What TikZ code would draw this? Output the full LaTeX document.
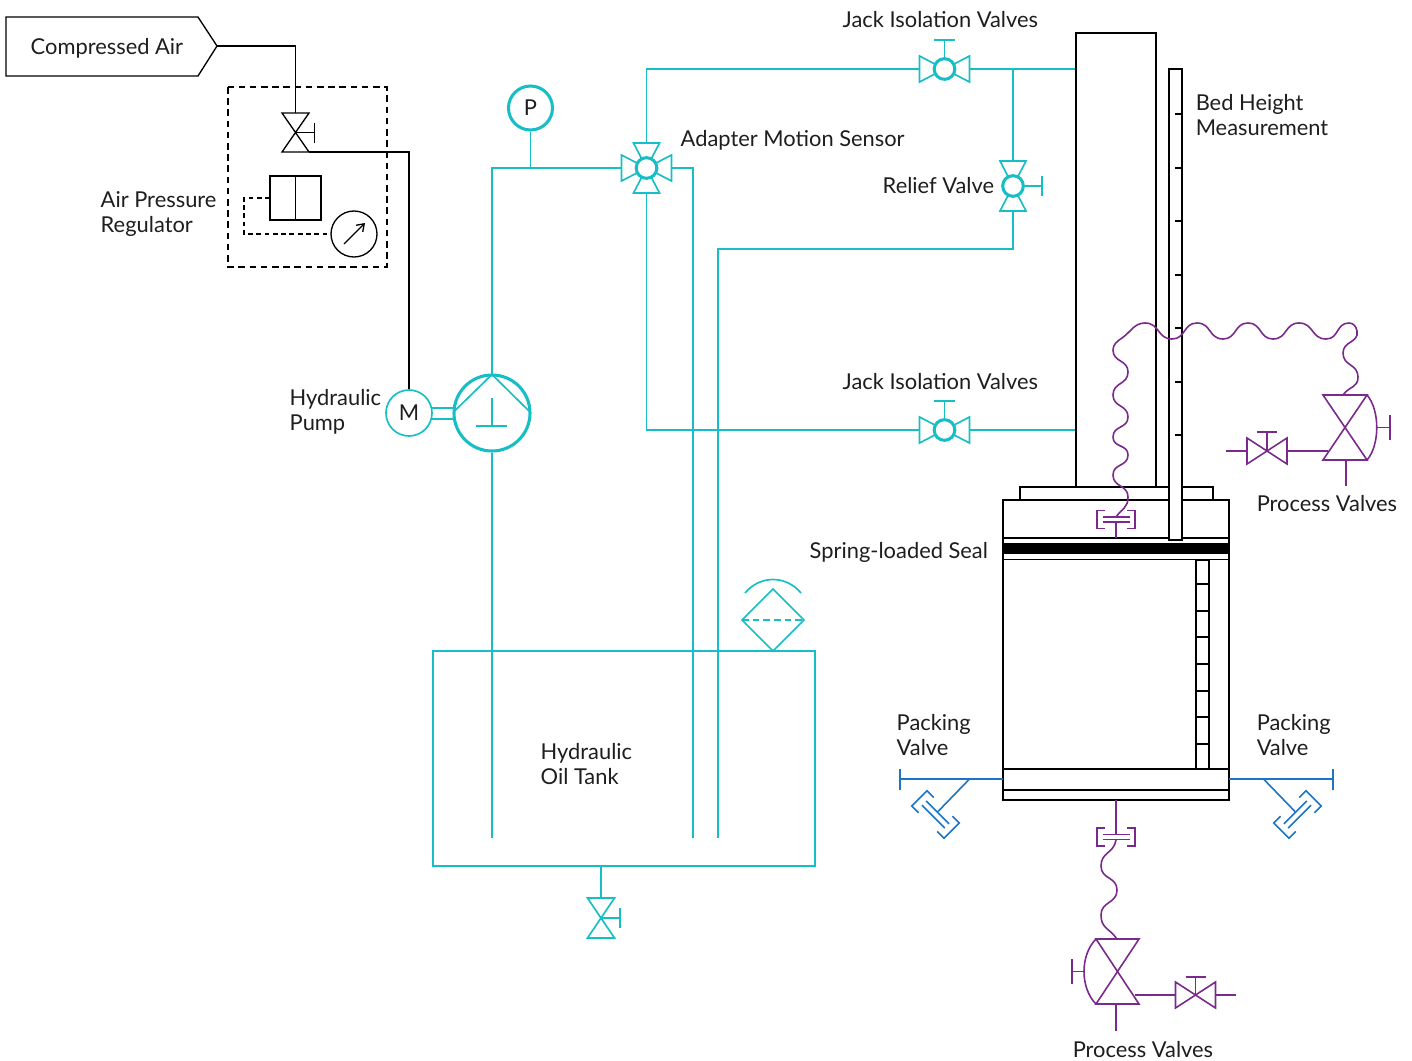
\documentclass[tikz,border=0pt]{standalone}
\usepackage{fontspec}
\setmainfont{Lato}
\usetikzlibrary{arrows.meta}
\definecolor{tealc}{HTML}{17BEC5}
\definecolor{purp}{HTML}{7A2A8C}
\definecolor{bluec}{HTML}{1C74C6}
\definecolor{ink}{HTML}{1E1E1E}
\newcommand{\ls}{\strut}
\tikzset{
 blk/.style={draw=black,line width=1.25pt},
 blkthin/.style={draw=black,line width=1pt},
 dsh/.style={draw=black,line width=1pt,dash pattern=on 5pt off 3.4pt},
 tl/.style={draw=tealc,line width=1.25pt},
 tlthick/.style={draw=tealc,line width=2.3pt},
 pl/.style={draw=purp,line width=1.2pt},
 bl/.style={draw=bluec,line width=1.2pt},
 vcircle/.style={circle,tlthick,fill=white,minimum size=15.5pt,inner sep=0pt},
 lbl/.style={font=\fontsize{16.4}{19}\selectfont,text=ink,inner sep=0pt,anchor=west,align=left,xshift=-0.4pt,yshift=-1.5pt},
}
% teal valve with round body: name, x, y, list of wing angles
\newcommand{\wingvalve}[4]{%
 \begin{scope}[shift={(#2,#3)}]
  \coordinate (#1-w) at (-25,0);\coordinate (#1-e) at (25,0);
  \coordinate (#1-n) at (0,-25);\coordinate (#1-s) at (0,25);
  \foreach \a in {#4}{\draw[tl,rotate=\a,line join=miter] (-25,-13)--(-25,13)--(0,0)--cycle;}
  \node[vcircle] (#1) at (0,0) {};
 \end{scope}}
% crossed-triangle valve: name, x, y, half width, half height, rotation, style
\newcommand{\crossvalve}[7]{%
 \begin{scope}[shift={(#2,#3)},rotate=#6]
  \coordinate (#1) at (0,0);
  \coordinate (#1-n) at (0,-#5);\coordinate (#1-s) at (0,#5);
  \draw[#7] (-#4,-#5)--(#4,-#5)--(-#4,#5)--(#4,#5)--cycle;
 \end{scope}}
% flange: x, y, rotation, scale, style
\newcommand{\flange}[5]{%
 \begin{scope}[shift={(#1,#2)},rotate=#3,scale=#4]
  \draw[#5] (-13.5,-2.5)--(13.5,-2.5) (-13.5,2.5)--(13.5,2.5);
  \draw[#5] (-11,-9)--(-19,-9)--(-19,9)--(-11,9);
  \draw[#5] (11,-9)--(19,-9)--(19,9)--(11,9);
 \end{scope}}
\begin{document}
\begin{tikzpicture}[x=0.75pt,y=-0.75pt]
\useasboundingbox (0,0) rectangle (1412,1060);
%% ---------- air side
\node[lbl] (tair) at (31,47.6) {\ls Compressed Air};
\draw[blkthin] (6,17)--(198,17)--(217,46)--(198,76)--(6,76)--cycle;
\coordinate (airtip) at (217,46);
\coordinate (airbend) at (295.5,46);
\crossvalve{airv}{295.5}{132.5}{13.5}{19.5}{0}{blkthin}
\coordinate (airout) at (309,152);
\coordinate (airbend2) at (409,152);
\node[circle,tl,minimum size=34.5pt,inner sep=0pt,font=\fontsize{16.4}{19}\selectfont,text=ink] (motor) at (409,413) {M};
\draw[blkthin] (airtip)--(airbend)--(airv-n);
\draw[blkthin] (airv)--++(19,0) ++(0,-10)--++(0,20);
\draw[blk] (airout)--(airbend2)--(motor.north);
\draw[dsh] (228,87) rectangle (387,267);
\draw[blkthin] (270,176) rectangle (321,220);
\draw[blkthin] (295.5,176)--(295.5,220);
\node[circle,blkthin,minimum size=34.5pt,inner sep=0pt] (gauge) at (354,234) {};
\draw[blkthin,-{Straight Barb[length=5pt,width=7pt]}] (344,244)--(365,223);
\coordinate (regl) at (270,198);
\coordinate (regc1) at (244,198);
\coordinate (regc2) at (244,234);
\draw[dsh,dash pattern=on 3.6pt off 2.6pt] (regl)--(regc1)--(regc2)--(gauge.west);
\node[lbl] (tapr) at (101,213) {\ls Air Pressure\\\ls Regulator};
%% ---------- tank
\draw[tl] (433,651) rectangle (815,866);
\coordinate (tankdrain) at (601,866);
\crossvalve{drain}{601}{918}{13.5}{20}{0}{tl}
\draw[tl] (tankdrain)--(drain-n);
\draw[tl] (drain)--++(19,0) ++(0,-10)--++(0,20);
\draw[tl] (773,589)--(804,620)--(773,651)--(742,620)--cycle;
\draw[tl,dash pattern=on 5pt off 3pt] (742,620)--(804,620);
\draw[tl] (745,593) .. controls (760,575) and (786,575) .. (801,593);
\node[lbl] (ttank) at (541,765.2) {\ls Hydraulic\\\ls Oil Tank};
%% ---------- pump
\node[circle,tlthick,minimum size=57pt,inner sep=0pt] (pump) at (492,413) {};
\coordinate (pumpa) at (492,374.5);
\coordinate (pumpb) at (453.5,412);
\coordinate (pumpc) at (530,412);
\draw[tl] (pumpb)--(pumpa)--(pumpc);
\draw[tl] (492,398)--(492,426) (476,426)--(507,426);
\coordinate (s1a) at (431,408);\coordinate (s1b) at (453,408);
\coordinate (s2a) at (431,419);\coordinate (s2b) at (453,419);
\draw[tl] (s1a)--(s1b) (s2a)--(s2b);
\node[lbl] (tpump) at (290,411.2) {\ls Hydraulic\\\ls Pump};
%% ---------- teal valves
\wingvalve{ams}{646.5}{168}{0,90,180,270}
\wingvalve{jack1}{944.5}{69}{0,180}
\wingvalve{jack2}{944.5}{430}{0,180}
\wingvalve{relief}{1013}{186}{90,270}
\node[circle,tlthick,minimum size=33pt,inner sep=0pt,font=\fontsize{16.4}{19}\selectfont,text=ink] (pg) at (530.5,108) {P};
\coordinate (pgj) at (530.5,168);
\coordinate (pc1) at (492,168);
\coordinate (pend) at (492,838);
\coordinate (r1) at (693,168);\coordinate (r1e) at (693,838);
\coordinate (r2) at (1013,249);\coordinate (r2b) at (718,249);\coordinate (r2e) at (718,838);
\coordinate (top1) at (646.5,69);
\coordinate (low1) at (646.5,430);
\coordinate (jct) at (1013,69);
\coordinate (colt) at (1076,69);
\coordinate (colb) at (1076,430);
\draw[tl] (pg.south)--(pgj);
\draw[tl] (pumpa)--(pc1)--(ams-w);
\draw[tl] (pump.south)--(pend);
\draw[tl] (ams-e)--(r1)--(r1e);
\draw[tl] (ams-n)--(top1)--(jack1-w);
\draw[tl] (ams-s)--(low1)--(jack2-w);
\draw[tl] (jack1-e)--(colt);
\draw[tl] (jack2-e)--(colb);
\draw[tl] (jct)--(relief-n);
\draw[tl] (relief-s)--(r2)--(r2b)--(r2e);
\draw[tl] (jack1.north)--++(0,-17) ++(-10.5,0)--++(21,0);
\draw[tl] (jack2.north)--++(0,-17) ++(-10.5,0)--++(21,0);
\draw[tl] (relief.east)--++(17,0) ++(0,-10)--++(0,20);
\node[lbl] (tjack1) at (843,20.9) {\ls Jack Isolation Valves};
\node[lbl] (tjack2) at (843,382) {\ls Jack Isolation Valves};
\node[lbl] (tams) at (681,139.9) {\ls Adapter Motion Sensor};
\node[lbl] (trel) at (883,186.6) {\ls Relief Valve};
%% ---------- column
\draw[blkthin] (1076,487)--(1076,33)--(1156,33)--(1156,487);
\draw[blkthin] (1020,500)--(1020,487)--(1213,487)--(1213,500);
\draw[blk,fill=white] (1003,500) rectangle (1229,800);
\fill[black] (1003,543) rectangle (1229,554);
\draw[blkthin] (1003,538)--(1229,538);
\draw[blkthin] (1003,559.5)--(1229,559.5);
\draw[blk] (1003,769)--(1229,769);
\draw[blk] (1003,790)--(1229,790);
\draw[blkthin] (1196,560) rectangle (1209,769);
\foreach \y in {584,611,637,664,691,717,744}{\draw[blkthin] (1196,\y)--(1209,\y);}
\draw[blkthin,fill=white] (1169,69) rectangle (1182,540);
\foreach \y in {114,168,221,275,328,382,435}{\draw[blkthin] (1175,\y)--(1182,\y);}
\node[lbl] (tbed) at (1196,116.2) {\ls Bed Height\\\ls Measurement};
\node[lbl] (tseal) at (810,551) {\ls Spring-loaded Seal};
%% ---------- packing valves
\coordinate (lpc) at (1003,779);\coordinate (lpt) at (900,779);\coordinate (lpj) at (969.5,779);\coordinate (lps) at (938,811.5);
\coordinate (rpc) at (1229,779);\coordinate (rpt) at (1333,779);\coordinate (rpj) at (1263.5,779);\coordinate (rps) at (1295,811.5);
\draw[bl] (lpc)--(lpt);
\draw[bl] (900,769)--(900,790);
\draw[bl] (lpj)--(lps);
\flange{935.5}{814.5}{135}{1.2}{bl}
\draw[bl] (rpc)--(rpt);
\draw[bl] (1333,769)--(1333,790);
\draw[bl] (rpj)--(rps);
\flange{1297.5}{814.5}{-135}{1.2}{bl}
\node[lbl] (tpl) at (897,736.2) {\ls Packing\\\ls Valve};
\node[lbl] (tpr) at (1257,736.2) {\ls Packing\\\ls Valve};
%% ---------- process side, top
\flange{1116}{519.5}{0}{1}{pl}
\coordinate (fts) at (1116,538);\coordinate (ftc) at (1116,522);
\draw[pl] (ftc)--(fts);
\crossvalve{pv1}{1345}{427.5}{22}{32.5}{0}{pl}
\crossvalve{sv1}{1267}{451}{13}{20}{90}{pl}
\coordinate (pv1s) at (1346,460);\coordinate (pv1se) at (1346,486);
\coordinate (pv1l) at (1328,451);
\coordinate (sv1o) at (1226,451);
\draw[pl] (pv1s)--(pv1se);
\draw[pl] (pv1l)--(sv1-s);
\draw[pl] (sv1o)--(sv1-n);
\draw[pl] (sv1)--++(0,-19) ++(-10,0)--++(20,0);
\coordinate (pv1ar) at (1377,427.5);
\draw[pl] (1367,395) .. controls (1380,410) and (1380,445) .. (1367,460);
\draw[pl] (pv1ar)--++(13,0) ++(0,-12.5)--++(0,25);
\coordinate (wva) at (1343,395);
\coordinate (wvb) at (1116,517);
\draw[pl,looseness=1.2] (wva) to[out=55,in=-90] (1358,377) to[out=90,in=-90] (1343,353) to[out=90,in=-80] (1357,331)
 to[out=100,in=0,looseness=1] (1349,323) to[out=180,in=0] (1326,339) to[out=180,in=0] (1299,323) to[out=180,in=0] (1273,339) to[out=180,in=0] (1248,323) to[out=180,in=0] (1223,339) to[out=180,in=0] (1197,323) to[out=180,in=0] (1172,339) to[out=180,in=0] (1145,323)
 to[out=180,in=35,looseness=1] (1122,338) to[out=215,in=90,looseness=1] (1113,350)
 to[out=-90,in=90] (1128,372) to[out=-90,in=90] (1113,395) to[out=-90,in=90] (1128,417) to[out=-90,in=90] (1113,437) to[out=-90,in=90] (1128,455) to[out=-90,in=90] (1113,475) to[out=-90,in=90] (1128,497) to[out=-90,in=55] (wvb);
\node[lbl] (tpv1) at (1257,504.5) {\ls Process Valves};
%% ---------- process side, bottom
\coordinate (fbt) at (1116,800);\coordinate (fbc) at (1116,834);
\draw[pl] (fbt)--(fbc);
\flange{1116}{837}{180}{1}{pl}
\crossvalve{pv2}{1117.5}{971.5}{21.5}{32.5}{0}{pl}
\crossvalve{sv2}{1195.5}{995}{13}{20}{90}{pl}
\coordinate (pv2s) at (1116,1004);\coordinate (pv2se) at (1116,1031);
\coordinate (pv2r) at (1135,995);
\coordinate (sv2o) at (1236,995);
\draw[pl] (pv2s)--(pv2se);
\draw[pl] (pv2r)--(sv2-n);
\draw[pl] (sv2-s)--(sv2o);
\draw[pl] (sv2)--++(0,-18) ++(-10,0)--++(20,0);
\coordinate (pv2al) at (1084,971.5);
\draw[pl] (1096,939) .. controls (1080,955) and (1080,988) .. (1096,1004);
\draw[pl] (pv2al)--++(-12,0) ++(0,-12.5)--++(0,25);
\coordinate (wvc) at (1116,840);
\coordinate (wvd) at (1117,939);
\draw[pl,looseness=1.2] (wvc) to[out=-100,in=90] (1101,866) to[out=-90,in=90] (1117,890) to[out=-90,in=90] (1101,915) to[out=-90,in=125] (wvd);
\node[lbl,anchor=base west] (tpv2) at (1073,1055.7) {Process Valves};
\end{tikzpicture}
\end{document}
